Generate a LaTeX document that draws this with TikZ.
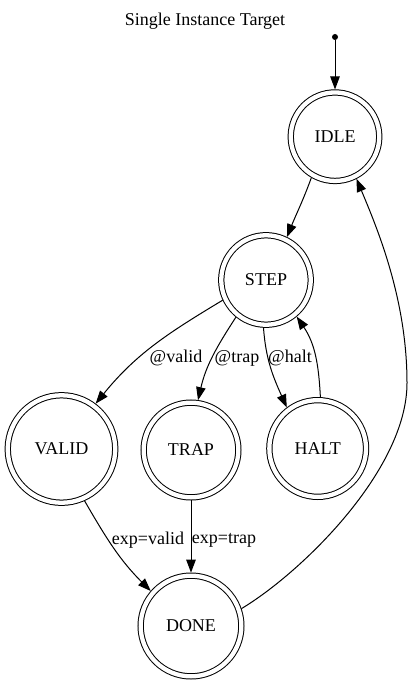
\documentclass[tikz,border=0pt]{standalone}
\usepackage{fontspec}
\setmainfont{Liberation Serif}
\usetikzlibrary{arrows.meta}
\begin{document}
\begin{tikzpicture}[x=1pt,y=-1pt,
  txt/.style={font=\fontsize{18}{21}\selectfont, inner sep=0pt},
  state/.style={circle, draw, line width=1pt, double, double distance=4.3pt,
    inner sep=0pt, outer sep=3pt, minimum size=#1, font=\fontsize{18}{21}\selectfont},
  edge/.style={line width=1pt, -{Triangle[length=13pt,width=9.5pt]}}]
\useasboundingbox (0,0) rectangle (411,684);
\node[txt] (title) at (205,21) {Single Instance Target};
\node[circle, fill, inner sep=0pt, minimum size=6pt] (start) at (335,37) {};
\node[state=88.5] (idle) at (335,136.7) {IDLE};
\node[state=89.5] (step) at (266,280) {STEP};
\node[state=107.5] (valid) at (61.5,449) {VALID};
\node[state=94.7] (trap) at (191,450) {TRAP};
\node[state=96.7] (halt) at (317.7,448.5) {HALT};
\node[state=100.7] (done) at (191,626) {DONE};
\node[txt] (lvalid) at (176,358) {@valid};
\node[txt] (ltrap) at (237,358) {@trap};
\node[txt] (lhalt) at (290,358) {@halt};
\node[txt] (lexpv) at (148,540) {exp=valid};
\node[txt] (lexpt) at (224,540) {exp=trap};
\coordinate (bend) at (407,383);
\draw[edge] (start) -- (idle);
\draw[edge] (idle.-120) to[out=-110,in=68] (step.64);
\draw[edge] (step.205) to[out=211,in=51] (valid.53);
\draw[edge] (step.231) to[out=237,in=77] (trap.82);
\draw[edge] (step.267) to[out=-86,in=114] (halt.127);
\draw[edge] (halt.87) to[out=93,in=-56] (step.-50);
\draw[edge] (valid.-66) to[out=-60,in=135] (done.139);
\draw[edge] (trap) -- (done);
\draw[edge] (done.19) .. controls +(60,-36) and (407,470) .. (bend)
  .. controls (407,300) and (378,230) .. (idle.-63);
\end{tikzpicture}
\end{document}
